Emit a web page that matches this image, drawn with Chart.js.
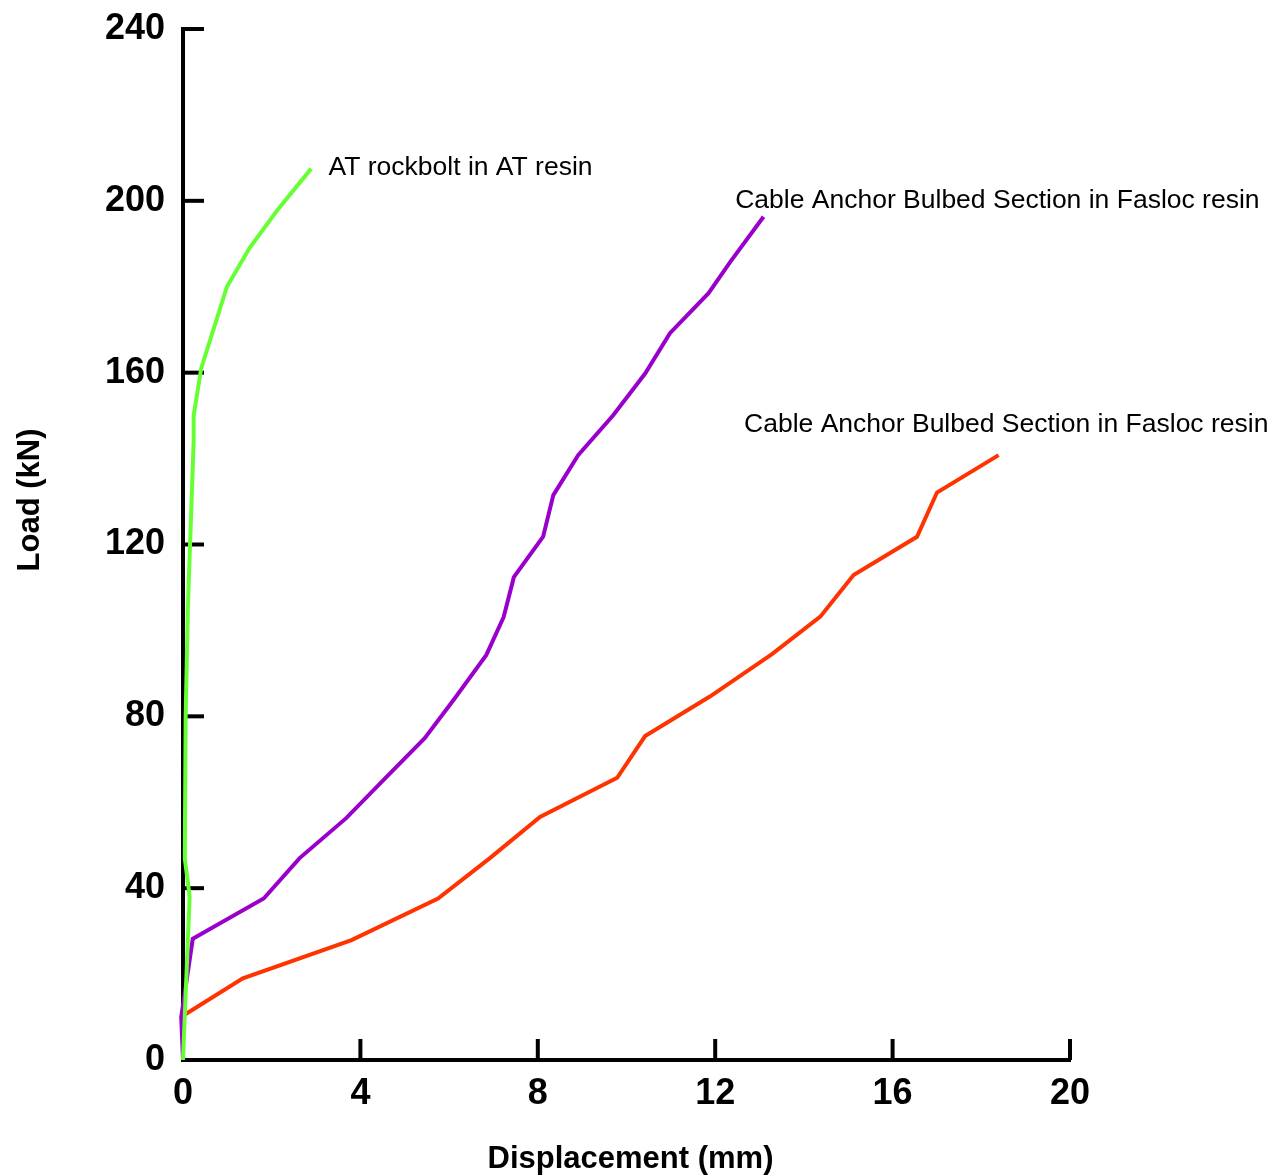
<!DOCTYPE html>
<html>
<head>
<meta charset="utf-8">
<title>Load vs Displacement</title>
<script src="https://cdn.jsdelivr.net/npm/chart.js@4.4.1/dist/chart.umd.min.js"></script>
<style>
  html, body { margin: 0; padding: 0; background: #ffffff; }
  #wrap { width: 1272px; height: 1175px; position: relative; }
</style>
</head>
<body>
<div id="wrap"><canvas id="chart" width="1272" height="1175"></canvas></div>
<script>
// Axis tick values
const xTickValues = [0, 4, 8, 12, 16, 20];
const yTickValues = [0, 40, 80, 120, 160, 200, 240];

// AT rockbolt in AT resin
const atDisp = [0, 0.15, 0.04, 0.06, 0.11, 0.24, 0.24, 0.41, 0.99, 1.50, 2.14, 2.89];
const atLoad = [0, 38, 47, 80, 105.5, 144, 150, 161, 180, 189, 198, 207.5];

// Cable anchor bulbed section in Fasloc resin (upper curve)
const cableADisp = [0, -0.04, 0.22, 1.82, 2.63, 3.68, 4.59, 5.45, 6.10, 6.84, 7.23, 7.46, 8.12, 8.35, 8.91, 9.70, 10.42, 10.98, 11.85, 12.34, 13.09];
const cableALoad = [0, 10, 28.2, 37.6, 47.0, 56.3, 65.9, 74.9, 83.8, 94.3, 103.1, 112.4, 121.8, 131.5, 140.8, 150.1, 159.8, 169.2, 178.5, 185.8, 196.3];

// Cable anchor bulbed section in Fasloc resin (lower curve)
const cableBDisp = [0, 1.35, 3.80, 5.75, 6.92, 8.05, 9.79, 10.42, 11.88, 13.28, 14.37, 15.12, 16.55, 17.00, 18.39];
const cableBLoad = [10.3, 19.0, 27.9, 37.6, 47.0, 56.6, 65.7, 75.4, 84.6, 94.5, 103.2, 112.9, 121.8, 132.1, 140.8];

// Curve labels
const curveLabels = ['AT rockbolt in AT resin', 'Cable Anchor Bulbed Section in Fasloc resin', 'Cable Anchor Bulbed Section in Fasloc resin'];
const xTitle = 'Displacement (mm)';
const yTitle = 'Load (kN)';

const FONT = '"Liberation Sans", Arial, Helvetica, sans-serif';

function toPoints(xs, ys) {
  return xs.map((x, i) => ({ x: x, y: ys[i] }));
}

// Where each curve label sits, in data units (left edge, text baseline)
const labelAnchors = [
  { x: 3.28, y: 205.9 },
  { x: 12.45, y: 198.3 },
  { x: 12.65, y: 146.2 }
];

// Inward tick marks, drawn from the scales' own pixel mapping
const inwardTicks = {
  id: 'inwardTicks',
  beforeDatasetsDraw(chart) {
    const { ctx, chartArea } = chart;
    const xs = chart.scales.x, ys = chart.scales.y;
    ctx.save();
    ctx.strokeStyle = '#000';
    ctx.lineWidth = 4;
    ctx.lineCap = 'butt';
    yTickValues.forEach(v => {
      const py = ys.getPixelForValue(v);
      ctx.beginPath();
      ctx.moveTo(chartArea.left, py);
      ctx.lineTo(chartArea.left + 21, py);
      ctx.stroke();
    });
    xTickValues.forEach(v => {
      const px = xs.getPixelForValue(v);
      ctx.beginPath();
      ctx.moveTo(px, chartArea.bottom);
      ctx.lineTo(px, chartArea.bottom - 21);
      ctx.stroke();
    });
    ctx.restore();
  }
};

// Curve labels and axis titles
const textLayer = {
  id: 'textLayer',
  afterDraw(chart) {
    const { ctx, chartArea } = chart;
    const xs = chart.scales.x, ys = chart.scales.y;
    ctx.save();
    ctx.fillStyle = '#000';
    ctx.font = '26.5px ' + FONT;
    ctx.textAlign = 'left';
    ctx.textBaseline = 'alphabetic';
    curveLabels.forEach((t, i) => {
      const a = labelAnchors[i];
      ctx.fillText(t, xs.getPixelForValue(a.x), ys.getPixelForValue(a.y));
    });

    ctx.font = 'bold 31px ' + FONT;
    ctx.textAlign = 'center';
    ctx.fillText(xTitle, (chartArea.left + chartArea.right) / 2 + 4, 1168);

    ctx.translate(39, 500);
    ctx.rotate(-Math.PI / 2);
    ctx.fillText(yTitle, 0, 0);
    ctx.restore();
  }
};

// Fixed axis box sizes, no extra label overhang padding
function fixBox(size, horizontal) {
  return s => {
    if (horizontal) s.height = size; else s.width = size;
    s.paddingTop = 0; s.paddingBottom = 0; s.paddingLeft = 0; s.paddingRight = 0;
  };
}

const lineStyle = { borderWidth: 4, pointRadius: 0, pointHoverRadius: 0, tension: 0, fill: false, clip: false };

new Chart(document.getElementById('chart'), {
  type: 'line',
  data: {
    datasets: [
      Object.assign({ label: curveLabels[0], data: toPoints(atDisp, atLoad), borderColor: '#66ff33', order: 0 }, lineStyle),
      Object.assign({ label: curveLabels[1], data: toPoints(cableADisp, cableALoad), borderColor: '#9900cc', order: 1 }, lineStyle),
      Object.assign({ label: curveLabels[2], data: toPoints(cableBDisp, cableBLoad), borderColor: '#ff3300', order: 2 }, lineStyle)
    ]
  },
  options: {
    responsive: false,
    animation: false,
    devicePixelRatio: 1,
    layout: { padding: { left: 0, top: 29, right: 202, bottom: 0 } },
    plugins: {
      legend: { display: false },
      tooltip: { enabled: false },
      title: { display: false }
    },
    scales: {
      x: {
        type: 'linear',
        min: 0,
        max: 20,
        afterBuildTicks: s => { s.ticks = xTickValues.map(v => ({ value: v })); },
        afterFit: fixBox(115, true),
        grid: { display: false, drawTicks: false },
        border: { display: true, color: '#000', width: 4 },
        ticks: {
          color: '#000',
          padding: 12,
          maxRotation: 0,
          font: { family: FONT, size: 36, weight: 'bold' }
        }
      },
      y: {
        type: 'linear',
        min: 0,
        max: 240,
        afterBuildTicks: s => { s.ticks = yTickValues.map(v => ({ value: v })); },
        afterFit: fixBox(183, false),
        grid: { display: false, drawTicks: false },
        border: { display: true, color: '#000', width: 4 },
        ticks: {
          color: '#000',
          padding: 18,
          font: { family: FONT, size: 36, weight: 'bold' }
        }
      }
    }
  },
  plugins: [inwardTicks, textLayer]
});
</script>
</body>
</html>
